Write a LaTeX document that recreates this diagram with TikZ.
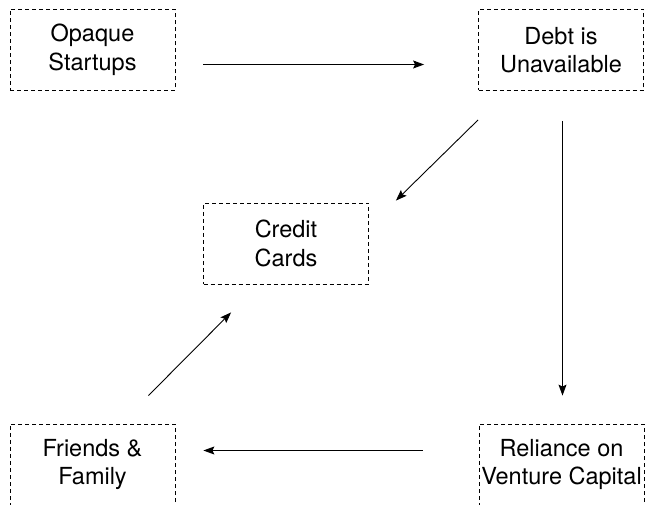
\documentclass[tikz,border=0pt]{standalone}
\usepackage{fontspec}
\setmainfont{TeX Gyre Heros}
\usetikzlibrary{arrows.meta}
\tikzset{
  box/.style={draw, dashed, dash pattern=on 4pt off 3pt, line width=0.8pt,
    minimum width=165pt, minimum height=81pt, align=center, inner sep=0pt,
    font=\fontsize{23.5}{28.5}\selectfont},
  arr/.style={-{Stealth[length=11pt,width=8pt,inset=2pt]}, line width=0.9pt}
}
\begin{document}
\begin{tikzpicture}[x=1pt,y=-1pt]
\useasboundingbox (0,0) rectangle (646,505);
\node[box] (opaque) at (92.5,50) {Opaque\\Startups};
\node[box] (debt) at (561,50) {Debt is\\Unavailable};
\node[box] (credit) at (286,243.5) {Credit\\Cards};
\node[box] (friends) at (92.5,464.5) {Friends \&\\Family};
\node[box] (reliance) at (561.5,464.5) {Reliance on\\Venture Capital};
\draw[arr] ([xshift=28pt,yshift=-14.5pt]opaque.east) -- ([xshift=-54pt,yshift=-14.5pt]debt.west);
\draw[arr] ([yshift=-29pt]debt.south west) -- ([xshift=27pt,yshift=2pt]credit.north east);
\draw[arr] ([xshift=1.5pt,yshift=-30pt]debt.south) -- ([xshift=1pt,yshift=28pt]reliance.north);
\draw[arr] ([xshift=-56pt,yshift=14pt]reliance.west) -- ([xshift=28pt,yshift=14pt]friends.east);
\draw[arr] ([xshift=-27pt,yshift=28pt]friends.north east) -- ([xshift=28pt,yshift=-28pt]credit.south west);
\end{tikzpicture}
\end{document}
